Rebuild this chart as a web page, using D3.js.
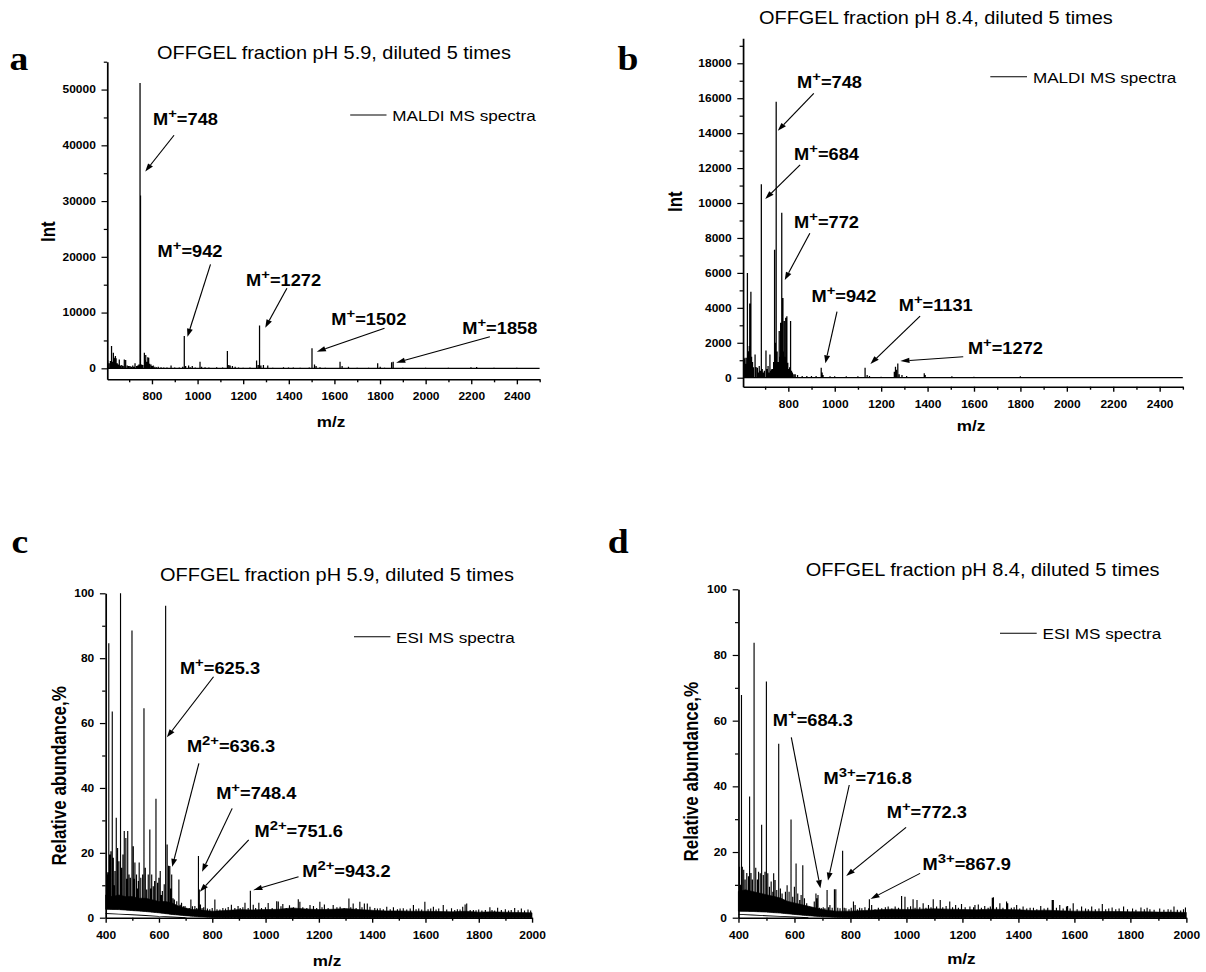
<!DOCTYPE html>
<html>
<head>
<meta charset="utf-8">
<script src="https://cdn.jsdelivr.net/npm/d3@7"></script>
<style>
  html, body { margin: 0; padding: 0; background: #fff; }
  svg { display: block; }
  text { font-family: "Liberation Sans", Arial, sans-serif; fill: #000; }
</style>
</head>
<body>
<svg id="fig"></svg>
<script>
// ---------------- Titles / labels ----------------
const titlePH59 = "OFFGEL fraction pH 5.9, diluted 5 times";
const titlePH84 = "OFFGEL fraction pH 8.4, diluted 5 times";

// ---------------- Tick values ----------------
const maldiXMajor = [800, 1000, 1200, 1400, 1600, 1800, 2000, 2200, 2400];
const maldiXMinor = [700, 900, 1100, 1300, 1500, 1700, 1900, 2100, 2300, 2500];
const aYMajor = [0, 10000, 20000, 30000, 40000, 50000];
const aYMinor = [5000, 15000, 25000, 35000, 45000, 55000];
const bYMajor = [0, 2000, 4000, 6000, 8000, 10000, 12000, 14000, 16000, 18000];
const bYMinor = [1000, 3000, 5000, 7000, 9000, 11000, 13000, 15000, 17000, 19000];
const esiXMajor = [400, 600, 800, 1000, 1200, 1400, 1600, 1800, 2000];
const esiXMinor = [500, 700, 900, 1100, 1300, 1500, 1700, 1900];
const esiYMajor = [0, 20, 40, 60, 80, 100];
const esiYMinor = [10, 30, 50, 70, 90];

// ---------------- Spectrum a: MALDI, pH 5.9 ([m/z, intensity]) ----------------
const peaksA = [
  [606,1500],[612,900],[618,1300],[623,4000],[627,1200],[631,2800],[634,1700],[637,1900],[640,2200],[643,1800],
  [648,900],[652,700],[657,1600],[662,500],[668,600],[673,400],[679,1600],[685,1500],[692,500],[698,400],
  [704,400],[710,300],[716,500],[721,300],[726,900],[733,400],[738,500],[743,700],[748,51200],[750,31000],
  [755,700],[760,600],[767,2800],[770,1500],[773,2400],[777,1200],[782,2000],[786,1900],[790,800],[796,700],
  [801,400],[806,500],[813,300],[820,200],[828,300],[840,200],[852,150],[866,150],[884,500],[900,150],
  [920,150],[935,300],[942,5800],[948,400],[961,500],[968,200],[977,400],[990,150],[1011,1200],[1018,300],
  [1033,200],[1050,150],[1084,200],[1110,150],[1131,3100],[1137,600],[1143,500],[1153,400],[1165,300],[1180,150],
  [1200,100],[1230,150],[1259,1400],[1266,600],[1272,7700],[1278,500],[1289,600],[1308,500],[1330,100],[1377,200],
  [1399,150],[1420,150],[1450,100],[1490,150],[1502,3600],[1513,700],[1520,400],[1537,200],[1560,100],[1625,1200],
  [1634,400],[1662,300],[1700,100],[1750,100],[1790,900],[1801,300],[1820,100],[1851,1100],[1858,1200],[1900,100],
  [2000,100],[2100,100],[2199,200],[2224,250],[2300,80],[2400,80]
];

// ---------------- Spectrum b: MALDI, pH 8.4 ----------------
const peaksB = [
  [609,660],[612,1100],[614,1140],[618,800],[621,1140],[624,6000],[628,1520],[632,1810],[634,4250],[636,2000],
  [639,4920],[642,1200],[646,900],[650,600],[657,1330],[661,610],[667,570],[671,300],[675,670],[679,400],
  [684,11070],[688,500],[692,300],[697,400],[704,1560],[708,500],[713,670],[717,300],[721,1330],[725,400],
  [728,480],[733,500],[737,900],[741,7330],[744,2000],[748,15800],[752,1500],[756,900],[761,2670],[764,1200],
  [767,3140],[772,9450],[777,4570],[780,1500],[783,3240],[786,1200],[789,3430],[792,1500],[794,3520],[798,860],
  [802,500],[806,600],[810,3240],[814,400],[818,300],[824,200],[830,200],[840,150],[860,100],[880,100],
  [900,100],[920,100],[942,570],[946,300],[950,150],[980,80],[1000,80],[1050,80],[1100,80],[1131,570],
  [1140,150],[1150,100],[1200,60],[1257,340],[1262,630],[1266,450],[1272,820],[1278,200],[1290,150],[1310,100],
  [1386,250],[1390,150],[1505,80],[1600,50],[1800,80],[2000,40]
];

// ---------------- Spectrum c: ESI, pH 5.9 (relative abundance, %) ----------------
const bandGridMz = [400,425,450,475,500,525,550,575,600,625,650,675,700,725,750,775,800,
  850,900,950,1000,1050,1100,1150,1200,1250,1300,1350,1400,1450,1500,1550,1600,1650,1700,1750,1800,1850,1900,1950,2000];
const cBandHi = [7,6.5,7,6.5,6.5,6,6,5.5,5,5,4.5,3.5,3,2.5,2.5,2.2,2,
  2.2,2.5,2.4,2.5,2.6,3,2.7,2.5,2.6,2.8,2.5,2.3,2.1,2.1,2.0,2.0,1.9,1.8,2.0,1.7,1.8,1.7,1.6,1.5];
const cBandLoMz = [400,450,500,550,600,650,700,750,800,850,2000];
const cBandLo = [2.6,2.5,2.2,1.9,1.5,1.0,0.6,0.3,0.1,0,0];
const cFloorMz = [400,450,500,550,600,650,700];
const cFloor = [1.3,1.1,0.9,0.7,0.4,0.2,0];
const peaksC = [
  [404,13.3],[408,14],[412,84.6],[416,19.5],[420,20.5],[425,63.6],[429,18.5],[432,10],[435,14.4],[440,30.8],
  [445,21.5],[450,17.4],[456,100],[460,15.4],[465,19.5],[470,26.7],[476,24.6],[480,12],[483,26.7],[488,13.3],
  [493,12.3],[499,88.5],[504,22],[507,12],[510,17],[516,13.3],[520,9],[523,11.3],[526,17],[532,12.3],
  [539,13.3],[544,64.6],[549,15.4],[554,8.7],[560,13.3],[566,27.2],[570,9],[573,13.3],[579,9.7],[584,11.3],
  [589,36.7],[595,10.8],[600,12.3],[605,14.4],[609,7],[613,8.2],[620,10.3],[625.3,96.2],[631,22.6],[636.3,16],
  [641,15.9],[645,9],[648,13.3],[653,6],[658,5.6],[667,5.1],[675,11.8],[680,4],[685,4.6],[692,3.5],
  [698,3.6],[703,3],[708,2.6],[714,3],[720,5.6],[726,3.5],[735,3.6],[742,3],[748.4,19],[751.6,8.7],
  [756,4.1],[762,3],[768,3.2],[774,9.2],[782,2.8],[791,2.6],[800,3],[810,5.6],[818,2.6],[829,2.5],
  [840,3],[850,2.8],[860,3.3],[872,4],[885,3],[897,3.6],[905,3],[915,3.2],[923,4.6],[935,3],
  [943.2,8.3],[954,4],[963,3],[975,4.6],[985,3],[1000,3.2],[1010,4.5],[1025,3],[1042,5.1],[1048,5],
  [1058,3.5],[1065,4.2],[1078,3],[1090,3.8],[1105,3.2],[1123,5.7],[1129,4.9],[1140,3.2],[1155,3],[1167,3.9],
  [1180,3.6],[1192,3],[1204,4.9],[1212,3.2],[1221,4.1],[1235,3],[1254,3.9],[1268,3.2],[1280,3.4],[1295,3],
  [1313,5.9],[1320,3.2],[1329,4.4],[1340,3],[1354,4.9],[1362,3.2],[1371,4.4],[1382,4.4],[1392,3.4],[1410,3],
  [1420,2.8],[1430,2.9],[1442,2.6],[1455,3.4],[1468,2.6],[1480,3.2],[1495,2.6],[1505,2.8],[1517,2.9],[1530,2.5],
  [1543,2.8],[1555,3.9],[1565,2.6],[1575,2.8],[1586,2.5],[1598,4.9],[1610,2.6],[1620,2.8],[1630,3.4],[1640,2.5],
  [1650,2.8],[1667,3.9],[1680,2.5],[1698,2.9],[1710,2.4],[1720,2.6],[1730,2.5],[1740,3.4],[1749,4.1],[1755,4.4],
  [1768,2.4],[1780,2.4],[1790,2.3],[1800,2.5],[1812,2.2],[1825,2.4],[1842,3.2],[1850,2.4],[1860,2.2],[1871,3.1],
  [1885,2.4],[1900,2.6],[1912,2.2],[1922,2.4],[1935,3],[1948,2.3],[1960,2.8],[1972,2.2],[1985,2.5],[1995,2.2]
];

// ---------------- Spectrum d: ESI, pH 8.4 ----------------
const dBandHi = [8,8.5,8,7.5,7,6.5,6,5,4.5,4,3.5,3,2.5,2.2,2,2,2,
  2.2,2.4,2.6,2.5,2.6,2.7,2.6,2.5,2.4,2.6,2.5,2.4,2.2,2.3,2.1,2.0,2.0,1.9,1.9,1.8,1.8,1.7,1.7,1.6];
const dBandLoMz = [400,450,500,550,600,650,700,750,800,2000];
const dBandLo = [2,1.9,1.7,1.4,1.0,0.6,0.3,0.1,0,0];
const dFloorMz = [400,450,500,550,600,650];
const dFloor = [1.0,0.8,0.6,0.4,0.2,0];
const peaksD = [
  [404,15.5],[407,10],[411,67.8],[414,15.5],[419,14.6],[424,11.6],[430,13.6],[436,12.6],[440,36.9],[445,13.6],
  [450,11.6],[456,83.7],[462,15.2],[468,11.6],[472,14],[478,13.5],[483,28.3],[489,13],[495,14],[500,71.9],
  [505,13.5],[511,9.4],[517,11],[523,7.9],[526,13.5],[531,11.5],[537,8.4],[544,53],[550,8.9],[556,7.4],
  [562,5.4],[568,7.9],[574,9.9],[581,7.9],[588,29.9],[594,6.4],[600,9.4],[606,16.5],[612,7.4],[619,5.4],
  [624,6.9],[630,16],[636,5.9],[644,4.4],[653,3.4],[662,2.9],[671,4.9],[677,7.4],[680,5.9],[684.3,6.9],
  [690,3],[697,2.9],[703,3.2],[709,2.9],[716.8,8.4],[722,3.2],[727,3.9],[735,3],[743,8.7],[748,8.7],
  [755,3],[763,2.9],[772.3,20.4],[778,3],[784,2.9],[795,2.6],[803,3],[811,4.9],[817,3.9],[825,2.6],
  [833,3],[841,2.9],[852,3.2],[865,2.9],[867.9,5.6],[876,3.9],[888,2.6],[900,3],[912,2.9],[925,3.2],
  [935,3.4],[948,2.8],[960,3.4],[972,3],[983,6.6],[995,6.4],[1005,3.2],[1015,3.5],[1024,5.6],[1031,3],
  [1038,5.4],[1048,3.2],[1060,4.4],[1070,3],[1079,3.9],[1088,3.2],[1096,5.6],[1108,3.4],[1121,5.4],[1130,3.2],
  [1142,3.6],[1155,4.9],[1165,3.2],[1176,3.9],[1186,3],[1197,4.2],[1210,3.2],[1227,3.4],[1240,3.2],[1245,3.9],
  [1257,4],[1268,3],[1280,3.6],[1292,3],[1300,3.4],[1307,6.1],[1311,6.2],[1322,3.2],[1334,4.4],[1345,3],
  [1358,4.9],[1362,4.4],[1375,3],[1385,3.2],[1394,3.9],[1405,2.8],[1417,3.4],[1430,2.8],[1442,3],[1454,3],
  [1466,2.6],[1480,3.6],[1492,2.8],[1505,3],[1521,5.4],[1525,5.4],[1536,3],[1548,3.9],[1560,2.8],[1572,3.4],
  [1576,3.6],[1585,2.8],[1596,4.4],[1610,2.6],[1626,3.4],[1640,2.8],[1650,2.6],[1662,3.4],[1675,2.6],[1688,2.8],
  [1700,4.2],[1712,2.6],[1723,2.8],[1735,3.1],[1748,2.6],[1760,2.8],[1776,3.4],[1790,2.6],[1808,2.8],[1820,2.4],
  [1838,3.1],[1850,2.6],[1860,3],[1870,2.6],[1885,2.4],[1905,2.8],[1920,2.4],[1935,2.6],[1945,2.4],[1956,3.4],
  [1968,2.4],[1980,2.2],[1990,2.6],[1997,3.1]
];

// ---------------- Peak annotations (label anchor and arrow in data units) ----------------
const notesA = [
  { mz: 748,  ch: "+", label: [805, 43600],  from: [897, 41800],  to: [771, 35300] },
  { mz: 942,  ch: "+", label: [825, 20000],  from: [1057, 18660], to: [956, 5670] },
  { mz: 1272, ch: "+", label: [1213, 14770], from: [1392, 14350], to: [1297, 7290] },
  { mz: 1502, ch: "+", label: [1587, 7770],  from: [1820, 7180],  to: [1523, 2980] },
  { mz: 1858, ch: "+", label: [2161, 6100],  from: [2282, 5670],  to: [1871, 1010] }
];
const notesB = [
  { mz: 748,  ch: "+", label: [838, 16570],  from: [910, 16280],  to: [755, 14140] },
  { mz: 684,  ch: "+", label: [825, 12460],  from: [851, 12180],  to: [701, 10230] },
  { mz: 772,  ch: "+", label: [825, 8550],   from: [893, 8270],   to: [785, 5590] },
  { mz: 942,  ch: "+", label: [900, 4350],   from: [1010, 3780],  to: [960, 825] },
  { mz: 1131, ch: "+", label: [1276, 3820],  from: [1368, 3530],  to: [1154, 785] },
  { mz: 1272, ch: "+", label: [1574, 1360],  from: [1554, 1200],  to: [1283, 955] }
];
const notesC = [
  { mz: 625.3, ch: "+",  label: [679, 75.1],  from: [805, 74.3],  to: [630, 55.6] },
  { mz: 636.3, ch: "2+", label: [705, 51],    from: [750, 47.6],  to: [650, 15.7] },
  { mz: 748.4, ch: "+",  label: [815, 36.6],  from: [875, 33.7],  to: [762, 14.2] },
  { mz: 751.6, ch: "2+", label: [959, 25],    from: [937, 24],    to: [753.5, 8.0] },
  { mz: 943.2, ch: "2+", label: [1138, 12.6], from: [1124, 12.6], to: [954, 8.5] }
];
const notesD = [
  { mz: 684.3, ch: "+",  label: [523, 58.4],  from: [589, 54.9],  to: [693, 9.0] },
  { mz: 716.8, ch: "3+", label: [704, 40.7],  from: [796, 40.4],  to: [720, 11.3] },
  { mz: 772.3, ch: "+",  label: [930, 30.3],  from: [999, 27.5],  to: [785, 12.7] },
  { mz: 867.9, ch: "3+", label: [1058, 14.5], from: [1049, 13.5], to: [872, 5.7] }
];

// ---------------- Figure setup ----------------
// The figure is laid out in page pixels; the drawing is stretched horizontally by SX.
const SX = 1.14;
const W = 1206, H = 972;
const hx = v => v / SX;

const svg = d3.select("#fig")
  .attr("width", W).attr("height", H)
  .attr("viewBox", `0 0 ${W / SX} ${H}`)
  .attr("preserveAspectRatio", "none");

const panels = [
  { letter: "a", letterPos: [9.6, 70], title: titlePH59, titlePos: [334, 59.3],
    box: { left: 107.2, right: 539.6, top: 61.7, bottom: 379.3 },
    xDomain: [604, 2500], yDomain: [-1970, 55000],
    xMajor: maldiXMajor, xMinor: maldiXMinor, yMajor: aYMajor, yMinor: aYMinor,
    yTitle: "Int", yTitlePos: [47.8, 231.7], xTitlePos: [331, 427],
    legend: "MALDI MS spectra", legendLine: [350.2, 386.5, 115], legendText: [392.3, 120.7],
    kind: "maldi", peaks: peaksA, notes: notesA },
  { letter: "b", letterPos: [617.4, 70], title: titlePH84, titlePos: [935.9, 24],
    box: { left: 743, right: 1182.8, top: 38.3, bottom: 386.7 },
    xDomain: [605, 2500], yDomain: [-515, 19430],
    xMajor: maldiXMajor, xMinor: maldiXMinor, yMajor: bYMajor, yMinor: bYMinor,
    yTitle: "Int", yTitlePos: [675.3, 201.7], xTitlePos: [971, 431],
    legend: "MALDI MS spectra", legendLine: [990.3, 1027, 76.7], legendText: [1032.9, 83.3],
    kind: "maldi", peaks: peaksB, notes: notesB },
  { letter: "c", letterPos: [11.5, 553.3], title: titlePH59, titlePos: [337, 581],
    box: { left: 105.6, right: 532, top: 593.3, bottom: 917.7 },
    xDomain: [400, 2000], yDomain: [0, 100],
    xMajor: esiXMajor, xMinor: esiXMinor, yMajor: esiYMajor, yMinor: esiYMinor,
    yTitle: "Relative abundance,%", yTitlePos: [59.3, 775.8], xTitlePos: [327, 966],
    legend: "ESI MS spectra", legendLine: [354, 390.4, 636.7], legendText: [396, 642.7],
    kind: "esi", peaks: peaksC, notes: notesC,
    bandHi: cBandHi, bandLoMz: cBandLoMz, bandLo: cBandLo, floorMz: cFloorMz, floor: cFloor },
  { letter: "d", letterPos: [607.7, 553.3], title: titlePH84, titlePos: [982.6, 576],
    box: { left: 738.4, right: 1186.3, top: 589.3, bottom: 917.7 },
    xDomain: [400, 2000], yDomain: [0, 100],
    xMajor: esiXMajor, xMinor: esiXMinor, yMajor: esiYMajor, yMinor: esiYMinor,
    yTitle: "Relative abundance,%", yTitlePos: [690.8, 771.7], xTitlePos: [961.4, 964],
    legend: "ESI MS spectra", legendLine: [1000, 1036.7, 633.3], legendText: [1042.5, 639.3],
    kind: "esi", peaks: peaksD, notes: notesD,
    bandHi: dBandHi, bandLoMz: dBandLoMz, bandLo: dBandLo, floorMz: dFloorMz, floor: dFloor }
];

function styleAxis(sel) {
  sel.select(".domain").attr("stroke", "#000").attr("stroke-width", 1.5);
  sel.selectAll(".tick line").attr("stroke", "#000").attr("stroke-width", 1.2);
  sel.selectAll(".tick text")
    .attr("font-family", "'Liberation Sans', Arial, sans-serif")
    .attr("font-weight", "bold").attr("font-size", 10.5).attr("fill", "#000");
}

function annotation(g, x, y, n) {
  const lx = x(n.label[0]), ly = y(n.label[1]);
  const t = g.append("text").attr("x", lx).attr("y", ly)
    .attr("font-weight", "bold").attr("font-size", 16);
  t.append("tspan").text("M");
  t.append("tspan").attr("dy", -7).attr("font-size", 13).text(n.ch);
  t.append("tspan").attr("dy", 7).text("=" + n.mz);

  const x1 = x(n.from[0]), y1 = y(n.from[1]);
  const x2 = x(n.to[0]), y2 = y(n.to[1]);
  const ang = Math.atan2(y2 - y1, x2 - x1);
  const L = 8, hw = 2.6;
  const bx = x2 - L * Math.cos(ang), by = y2 - L * Math.sin(ang);
  g.append("line").attr("x1", x1).attr("y1", y1).attr("x2", bx).attr("y2", by)
    .attr("stroke", "#000").attr("stroke-width", 1);
  const head = [
    [x2, y2],
    [bx + hw * Math.sin(ang), by - hw * Math.cos(ang)],
    [bx - hw * Math.sin(ang), by + hw * Math.cos(ang)]
  ];
  g.append("path").attr("d", d3.line()(head) + "Z").attr("fill", "#000");
}

panels.forEach(p => {
  const g = svg.append("g");
  const b = p.box;
  const x = d3.scaleLinear().domain(p.xDomain).range([hx(b.left), hx(b.right)]);
  const y = d3.scaleLinear().domain(p.yDomain).range([b.bottom, b.top]);

  // spectrum
  if (p.kind === "maldi") {
    g.append("line")
      .attr("x1", x(p.xDomain[0])).attr("x2", x(p.xDomain[1]))
      .attr("y1", y(0)).attr("y2", y(0))
      .attr("stroke", "#000").attr("stroke-width", 1.2);
    g.append("path")
      .attr("d", p.peaks.map(d => `M${x(d[0])},${y(0)}V${y(d[1])}`).join(""))
      .attr("stroke", "#000").attr("stroke-width", 1.1).attr("fill", "none");
  } else {
    // noise band: upper edge along the sampling grid, lower edge back along its own samples
    const upper = bandGridMz.map((m, i) => [x(m), y(p.bandHi[i])]);
    const lower = p.bandLoMz.map((m, i) => [x(m), y(p.bandLo[i])]).reverse();
    g.append("path").attr("d", d3.line()(upper.concat(lower)) + "Z")
      .attr("fill", "#000").attr("stroke", "#000").attr("stroke-width", 0.6);
    g.append("path")
      .attr("d", d3.line()(p.floorMz.map((m, i) => [x(m), y(p.floor[i])])))
      .attr("fill", "none").attr("stroke", "#000").attr("stroke-width", 0.9);
    // peaks rise from the lower edge of the noise band
    const bandFloor = d3.scaleLinear().domain(p.bandLoMz).range(p.bandLo).clamp(true);
    g.append("path")
      .attr("d", p.peaks.map(d => `M${x(d[0])},${y(bandFloor(d[0]))}V${y(d[1])}`).join(""))
      .attr("stroke", "#000").attr("stroke-width", 1.0).attr("fill", "none");
  }

  // axes
  const xa = g.append("g").attr("transform", `translate(0,${b.bottom})`)
    .call(d3.axisBottom(x).tickValues(p.xMajor).tickFormat(d3.format("d"))
      .tickSize(5).tickPadding(8.5).tickSizeOuter(0));
  styleAxis(xa);
  const xm = g.append("g").attr("transform", `translate(0,${b.bottom})`)
    .call(d3.axisBottom(x).tickValues(p.xMinor).tickFormat("").tickSize(3).tickSizeOuter(0));
  xm.select(".domain").remove();
  styleAxis(xm);

  const ya = g.append("g").attr("transform", `translate(${hx(b.left)},0)`)
    .call(d3.axisLeft(y).tickValues(p.yMajor).tickFormat(d3.format("d"))
      .tickSize(5).tickPadding(5).tickSizeOuter(0));
  styleAxis(ya);
  const ym = g.append("g").attr("transform", `translate(${hx(b.left)},0)`)
    .call(d3.axisLeft(y).tickValues(p.yMinor).tickFormat("").tickSize(3).tickSizeOuter(0));
  ym.select(".domain").remove();
  styleAxis(ym);

  // axis titles
  g.append("text")
    .attr("transform", `translate(${hx(p.yTitlePos[0])},${p.yTitlePos[1]}) rotate(-90)`)
    .attr("text-anchor", "middle").attr("dy", "0.35em")
    .attr("font-weight", "bold").attr("font-size", 17).text(p.yTitle);
  g.append("text")
    .attr("x", hx(p.xTitlePos[0])).attr("y", p.xTitlePos[1])
    .attr("text-anchor", "middle").attr("font-weight", "bold").attr("font-size", 15).text("m/z");

  // title, panel letter, legend
  g.append("text").attr("x", hx(p.titlePos[0])).attr("y", p.titlePos[1])
    .attr("text-anchor", "middle").attr("font-size", 17.5).text(p.title);
  g.append("text").attr("x", hx(p.letterPos[0])).attr("y", p.letterPos[1])
    .style("font-family", "'Liberation Serif', 'Times New Roman', serif")
    .attr("font-weight", "bold").attr("font-size", 33).text(p.letter);
  g.append("line")
    .attr("x1", hx(p.legendLine[0])).attr("x2", hx(p.legendLine[1]))
    .attr("y1", p.legendLine[2]).attr("y2", p.legendLine[2])
    .attr("stroke", "#000").attr("stroke-width", 1);
  g.append("text").attr("x", hx(p.legendText[0])).attr("y", p.legendText[1])
    .attr("font-size", 15).text(p.legend);

  // peak annotations
  p.notes.forEach(n => annotation(g, x, y, n));
});
</script>
</body>
</html>
